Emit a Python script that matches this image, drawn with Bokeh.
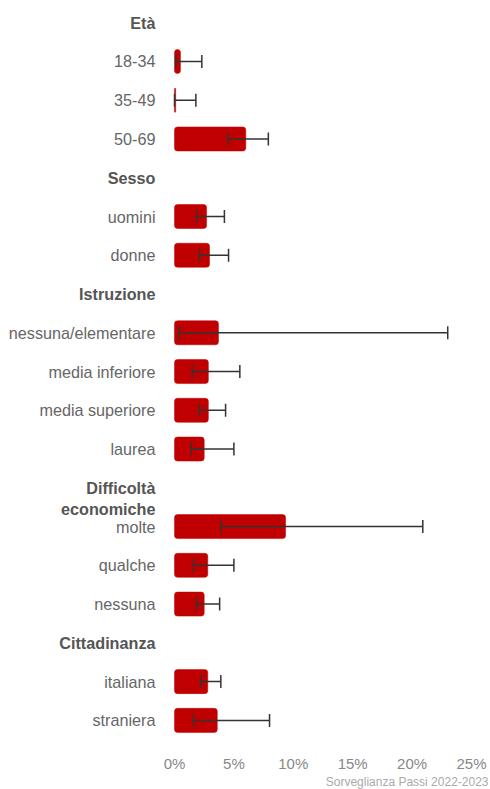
from bokeh.plotting import figure
from bokeh.models import (ColumnDataSource, Range1d, FixedTicker, PrintfTickFormatter,
                          Whisker, TeeHead, Title)
from bokeh.core.properties import value
from bokeh.embed import file_html
from bokeh.resources import INLINE

# ---- data ----
headers = ["Età", "Sesso", "Istruzione", "Difficoltà\neconomiche", "Cittadinanza"]
groups = [
    ["18-34", "35-49", "50-69"],
    ["uomini", "donne"],
    ["nessuna/elementare", "media inferiore", "media superiore", "laurea"],
    ["molte", "qualche", "nessuna"],
    ["italiana", "straniera"],
]
values = [0.5, 0.1, 6.0,
          2.7, 2.95,
          3.7, 2.85, 2.85, 2.5,
          9.35, 2.8, 2.5,
          2.8, 3.6]
lower = [0.1, 0.0, 4.5,
         1.85, 2.1,
         0.4, 1.5, 2.1, 1.4,
         3.9, 1.6, 1.85,
         2.2, 1.6]
upper = [2.3, 1.8, 7.9,
         4.2, 4.55,
         23.0, 5.5, 4.3, 5.0,
         20.9, 5.0, 3.8,
         3.9, 8.0]
ticks = [0, 5, 10, 15, 20, 25]
source_note = "Sorveglianza Passi 2022-2023"

# ---- slot layout (row index from top) ----
header_y, cat_y, cat_names = [], [], []
row = 0
for h, g in zip(headers, groups):
    header_y.append(row)
    row += 1
    for c in g:
        cat_y.append(row)
        cat_names.append(c)
        row += 1

bars = ColumnDataSource(dict(y=cat_y, v=values, lo=lower, hi=upper, name=cat_names,
                             x0=[0] * len(cat_y)))
heads = ColumnDataSource(dict(y=header_y, name=headers, x0=[0] * len(header_y)))

FW, FH = 490, 741
PX_PER_UNIT = 11.88
ZERO_PX = 174
ROW_PX = 38.76
TOP_PX = 22.2

x_start = -ZERO_PX / PX_PER_UNIT
x_end = (FW - ZERO_PX) / PX_PER_UNIT
y_top = -TOP_PX / ROW_PX
y_bottom = (FH - TOP_PX) / ROW_PX

p = figure(frame_width=FW, frame_height=FH, output_backend="svg", toolbar_location=None,
           x_range=Range1d(x_start, x_end), y_range=Range1d(y_bottom, y_top),
           min_border=0, min_border_left=0, min_border_right=0, min_border_top=0,
           min_border_bottom=0, outline_line_color=None)

p.hbar(y="y", left="x0", right="v", height=0.62, source=bars, fill_color="#C00000",
       line_color="#C00000", line_alpha=0.5, border_radius=3)

w = Whisker(base="y", lower="lo", upper="hi", source=bars, dimension="width",
            line_color="#333333", line_width=1.5, level="overlay",
            lower_head=TeeHead(size=13, line_color="#333333", line_width=1.5),
            upper_head=TeeHead(size=13, line_color="#333333", line_width=1.5))
p.add_layout(w)

p.text(x="x0", y="y", text="name", source=bars, x_offset=-19, y_offset=0,
       text_align="right", text_baseline="middle", text_font=value("Liberation Sans"),
       text_font_size="16.2px", text_color="#666666")
p.text(x="x0", y="y", text="name", source=heads, x_offset=-19, y_offset=-9,
       text_align="right", text_baseline="top", text_line_height=1.18,
       text_font=value("Liberation Sans"), text_font_size="16.2px",
       text_font_style="bold", text_color="#555555")

p.xgrid.visible = False
p.ygrid.visible = False
p.yaxis.visible = False
ax = p.xaxis[0]
ax.ticker = FixedTicker(ticks=ticks, minor_ticks=[])
ax.formatter = PrintfTickFormatter(format="%d%%")
ax.axis_line_color = None
ax.major_tick_line_color = None
ax.minor_tick_line_color = None
ax.major_tick_out = 0
ax.major_tick_in = 0
ax.minor_tick_out = 0
ax.minor_tick_in = 0
ax.major_label_standoff = 13
ax.major_label_text_font = "Liberation Sans"
ax.major_label_text_font_size = "15px"
ax.major_label_text_color = "#888888"

p.add_layout(Title(text=source_note, align="right", vertical_align="top",
                   text_font="Liberation Sans", text_font_size="12px",
                   text_font_style="normal", text_line_height=1.0,
                   text_color="#aaaaaa", standoff=0, offset=2),
             "below")

open("out.html", "w").write(file_html(p, INLINE))
